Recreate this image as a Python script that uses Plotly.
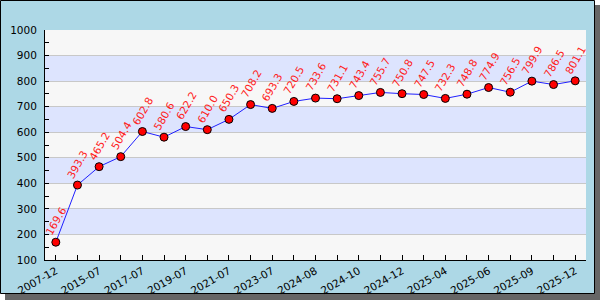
import plotly.graph_objects as go

categories = ["2007-12", "2013-07", "2015-07", "2016-07", "2017-07", "2018-07",
              "2019-07", "2020-07", "2021-07", "2022-07", "2023-07", "2024-03",
              "2024-08", "2024-09", "2024-10", "2024-11", "2024-12", "2025-02",
              "2025-04", "2025-05", "2025-06", "2025-08", "2025-09", "2025-11",
              "2025-12"]
values = [169.6, 393.3, 465.2, 504.4, 602.8, 580.6, 622.2, 610.0, 650.3, 708.2,
          693.3, 720.5, 733.6, 731.1, 743.4, 755.7, 750.8, 747.5, 732.3, 748.8,
          774.9, 756.5, 799.9, 786.5, 801.1]
y_ticks = list(range(100, 1001, 100))

W, H = 600, 300
L, R, T, B = 45, 14, 30, 40
pw, ph = W - L - R, H - T - B

def px(x):
    return (x - L) / pw

def py(y):
    return (H - B - y) / ph

xs = list(range(len(categories)))
ticktext = [c if i % 2 == 0 else "" for i, c in enumerate(categories)]

fig = go.Figure()
fig.add_trace(go.Scatter(
    x=xs, y=values, mode="lines+markers",
    line=dict(color="#2020ff", width=1),
    marker=dict(color="#ff0000", size=8, line=dict(color="black", width=1)),
    hoverinfo="skip", showlegend=False, cliponaxis=False,
))

annotations = []
for x, v in zip(xs, values):
    annotations.append(dict(
        x=x, y=v, xref="x", yref="y", text=f"{v:.1f}", showarrow=False,
        textangle=-60, yshift=21, xshift=0,
        font=dict(family="DejaVu Sans", size=10.5, color="#ff2020"),
    ))

shapes = [
    dict(type="rect", xref="paper", yref="paper", x0=px(5), x1=px(600), y0=py(5), y1=py(300),
         fillcolor="#666666", line=dict(width=0), layer="below"),
    dict(type="rect", xref="paper", yref="paper", x0=px(0.5), x1=px(594.5), y0=py(0.5), y1=py(293.5),
         fillcolor="#add8e6", line=dict(color="black", width=1), layer="below"),
]
for lo in range(100, 1000, 100):
    color = "#f7f7f7" if (lo // 100) % 2 == 1 else "#dde4fe"
    shapes.append(dict(type="rect", xref="paper", yref="y", x0=0, x1=1, y0=lo, y1=lo + 100,
                       fillcolor=color, line=dict(width=0), layer="below"))

fig.update_layout(
    width=W, height=H,
    margin=dict(l=L, r=R, t=T, b=B, pad=0, autoexpand=False),
    paper_bgcolor="white", plot_bgcolor="rgba(0,0,0,0)",
    font=dict(family="DejaVu Sans", size=10.5, color="black"),
    shapes=shapes, annotations=annotations,
    xaxis=dict(
        range=[-0.5, len(categories) - 0.5], tickmode="array", tickvals=xs, ticktext=ticktext,
        tickangle=-30, ticks="inside", ticklen=5, tickcolor="black", automargin=False,
        showline=True, linecolor="black", linewidth=1, showgrid=False, zeroline=False,
        tickfont=dict(size=10.5),
    ),
    yaxis=dict(
        range=[100, 1000], tickmode="array", tickvals=y_ticks, automargin=False,
        ticks="inside", ticklen=4, tickcolor="black",
        minor=dict(ticks="inside", ticklen=4, dtick=50, tickcolor="black", showgrid=False),
        showline=True, linecolor="black", linewidth=1,
        showgrid=True, gridcolor="#c8c8c8", gridwidth=1, zeroline=False,
        tickfont=dict(size=10.5), ticklabelstandoff=5,
    ),
)

fig.write_html("out.html")
